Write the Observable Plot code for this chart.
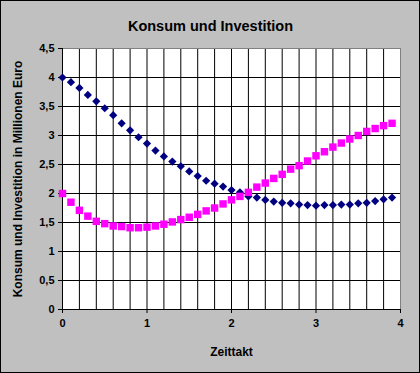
<!DOCTYPE html>
<html>
<head>
<meta charset="utf-8">
<script src="https://cdn.jsdelivr.net/npm/d3@7"></script>
<script src="https://cdn.jsdelivr.net/npm/@observablehq/plot@0.6"></script>
<style>
  html, body { margin: 0; padding: 0; background: #C0C0C0; }
</style>
</head>
<body>
<div id="chart"></div>
<script>
const title = "Konsum und Investition";
const xLabel = "Zeittakt";
const yLabel = "Konsum und Investition in Millionen Euro";

const zeittakt = [0, 0.1, 0.2, 0.3, 0.4, 0.5, 0.6, 0.7, 0.8, 0.9,
  1.0, 1.1, 1.2, 1.3, 1.4, 1.5, 1.6, 1.7, 1.8, 1.9,
  2.0, 2.1, 2.2, 2.3, 2.4, 2.5, 2.6, 2.7, 2.8, 2.9,
  3.0, 3.1, 3.2, 3.3, 3.4, 3.5, 3.6, 3.7, 3.8, 3.9];

const konsum = [4.00, 3.92, 3.82, 3.70, 3.59, 3.47, 3.35, 3.21, 3.09, 2.97,
  2.86, 2.74, 2.64, 2.55, 2.47, 2.38, 2.30, 2.22, 2.17, 2.12,
  2.06, 2.02, 1.95, 1.93, 1.89, 1.86, 1.84, 1.83, 1.81, 1.80,
  1.79, 1.80, 1.80, 1.81, 1.81, 1.83, 1.84, 1.87, 1.90, 1.93];

const investition = [2.00, 1.85, 1.71, 1.61, 1.52, 1.48, 1.44, 1.43, 1.41, 1.41,
  1.42, 1.44, 1.47, 1.51, 1.55, 1.59, 1.64, 1.70, 1.75, 1.82,
  1.89, 1.95, 2.02, 2.11, 2.18, 2.26, 2.33, 2.42, 2.48, 2.56,
  2.65, 2.72, 2.80, 2.87, 2.94, 3.00, 3.07, 3.12, 3.17, 3.21];

const xTicks = [0, 1, 2, 3, 4];
const yTicks = [0, 0.5, 1, 1.5, 2, 2.5, 3, 3.5, 4, 4.5];
const xGrid = [0, 0.2, 0.4, 0.6, 0.8, 1.0, 1.2, 1.4, 1.6, 1.8, 2.0, 2.2, 2.4, 2.6, 2.8, 3.0, 3.2, 3.4, 3.6, 3.8];
const yGrid = [0, 0.5, 1, 1.5, 2, 2.5, 3, 3.5, 4];

const konsumData = zeittakt.map((t, i) => ({t, v: konsum[i]}));
const investData = zeittakt.map((t, i) => ({t, v: investition[i]}));

const fmt = d => String(d).replace(".", ",");

const chart = Plot.plot({
  width: 420,
  height: 373,
  marginLeft: 62,
  marginRight: 20,
  marginTop: 48,
  marginBottom: 64,
  style: {
    background: "#C0C0C0",
    fontFamily: "'Liberation Sans', Arial, sans-serif",
    fontWeight: "bold",
    fontSize: "11px",
    color: "black",
    outline: "1px solid black",
    outlineOffset: "-1px"
  },
  x: {domain: [0, 4]},
  y: {domain: [0, 4.5]},
  marks: [
    Plot.frame({fill: "white", stroke: "none"}),
    Plot.ruleX(xGrid, {stroke: "black"}),
    Plot.ruleY(yGrid, {stroke: "black"}),
    Plot.frame({stroke: "#808080"}),
    Plot.ruleX([0], {stroke: "black"}),
    Plot.ruleY([0], {stroke: "black"}),
    Plot.axisX({ticks: xTicks, tickSize: 4, tickPadding: 6, tickFormat: fmt, label: null, fontSize: 11}),
    Plot.axisY({ticks: yTicks, tickSize: 4, tickPadding: 4, tickFormat: fmt, label: null, fontSize: 11}),
    Plot.dot(konsumData, {x: "t", y: "v", symbol: "diamond2", r: 3.7, fill: "#000080", stroke: "none"}),
    Plot.dot(investData, {x: "t", y: "v", symbol: "square", r: 4.2, fill: "#FF00FF", stroke: "none"}),
    Plot.text([title], {text: d => d, frameAnchor: "top", textAnchor: "middle", lineAnchor: "middle", dx: -21, dy: -22, fontSize: 14.5, fontWeight: "bold"}),
    Plot.text([xLabel], {text: d => d, frameAnchor: "bottom", textAnchor: "middle", lineAnchor: "middle", dy: 43, fontSize: 12, fontWeight: "bold"}),
    Plot.text([yLabel], {text: d => d, frameAnchor: "left", textAnchor: "middle", lineAnchor: "middle", dx: -44, rotate: -90, fontSize: 12, fontWeight: "bold"})
  ]
});
document.getElementById("chart").appendChild(chart);
</script>
</body>
</html>
